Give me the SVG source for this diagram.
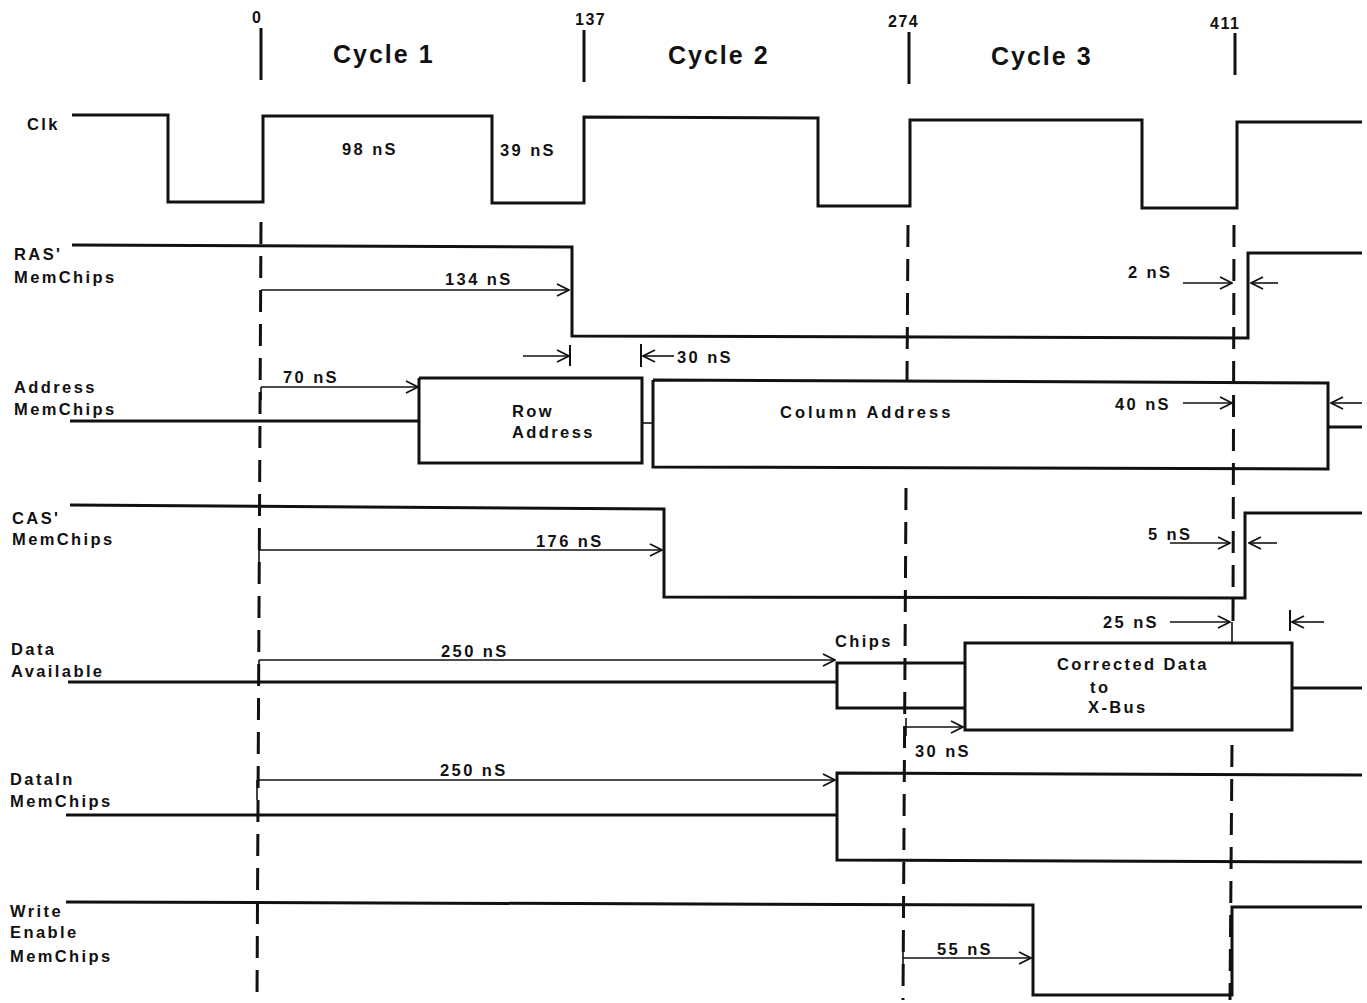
<svg xmlns="http://www.w3.org/2000/svg" width="1367" height="1003" viewBox="0 0 1367 1003">
<style>
.sig{fill:none;stroke:#111;stroke-width:3;stroke-linejoin:miter}
.dash{fill:none;stroke:#111;stroke-width:3;stroke-dasharray:22 12}
.tick{fill:none;stroke:#111;stroke-width:3}
.dim{fill:none;stroke:#111;stroke-width:1.6}
.dimA{fill:none;stroke:#111;stroke-width:1.6;marker-end:url(#arr)}
text{font-family:"Liberation Sans",Arial,sans-serif;font-weight:bold;fill:#111}
.lbl{font-size:16.5px;letter-spacing:2.4px}
.cyc{font-size:25px;letter-spacing:2px}
.num{font-size:16px;letter-spacing:1.5px}
</style>
<defs>
<marker id="arr" viewBox="0 0 14 14" refX="13" refY="7" markerWidth="14" markerHeight="14" markerUnits="userSpaceOnUse" orient="auto">
<path d="M1,1 L13,7 L1,13" fill="none" stroke="#111" stroke-width="1.8"/>
</marker>
</defs>
<rect width="1367" height="1003" fill="#fff"/>

<g id="timescale">
<line class="tick" x1="261" y1="28" x2="261" y2="80"/>
<line class="tick" x1="584" y1="30" x2="584" y2="82"/>
<line class="tick" x1="909" y1="32" x2="909" y2="84"/>
<line class="tick" x1="1235" y1="33" x2="1235" y2="75"/>
<text class="num" x="252" y="23">0</text>
<text class="num" x="575" y="25">137</text>
<text class="num" x="888" y="27">274</text>
<text class="num" x="1210" y="29">411</text>
<text class="cyc" x="333" y="63">Cycle 1</text>
<text class="cyc" x="668" y="64">Cycle 2</text>
<text class="cyc" x="991" y="65">Cycle 3</text>
</g>

<g id="gridlines">
<line class="dash" x1="261" y1="222" x2="257" y2="1000"/>
<line class="dash" x1="908" y1="225" x2="907" y2="380"/>
<line class="dash" x1="906" y1="488" x2="903" y2="1000"/>
<line class="dash" x1="1234" y1="225" x2="1233" y2="622"/>
<line class="dash" x1="1232" y1="745" x2="1230" y2="1000"/>
</g>

<g id="clk">
<text class="lbl" x="27" y="130">Clk</text>
<polyline class="sig" points="72,115 168,115 168,202 263,202 263,116 492,116 492,203 584,203 584,117 818,118 818,206 910,206 910,120 1142,120 1142,208 1237,208 1237,122 1362,122"/>
<text class="lbl" x="342" y="155">98 nS</text>
<text class="lbl" x="500" y="156">39 nS</text>
</g>

<g id="ras">
<text class="lbl" x="14" y="260">RAS'</text>
<text class="lbl" x="14" y="283">MemChips</text>
<polyline class="sig" points="72,245 572,247 572,336 1248,338 1248,253 1362,253"/>
</g>

<g id="address">
<text class="lbl" x="14" y="393">Address</text>
<text class="lbl" x="14" y="415">MemChips</text>
<polyline class="sig" points="70,421 419,421"/>
<polyline class="sig" points="419,378 642,378 642,463 419,463 419,378"/>
<line class="dim" x1="642" y1="423" x2="653" y2="423"/>
<polyline class="sig" points="653,380 1328,383 1328,469 653,467 653,380"/>
<line class="sig" x1="1328" y1="427" x2="1362" y2="427"/>
<text class="lbl" x="512" y="417">Row</text>
<text class="lbl" x="512" y="438">Address</text>
<text class="lbl" x="780" y="418" style="letter-spacing:3px">Column Address</text>
</g>

<g id="cas">
<text class="lbl" x="12" y="524">CAS'</text>
<text class="lbl" x="12" y="545">MemChips</text>
<polyline class="sig" points="70,505 664,509 664,597 1245,598 1245,513 1362,513"/>
</g>

<g id="data-available">
<text class="lbl" x="11" y="655">Data</text>
<text class="lbl" x="11" y="677">Available</text>
<polyline class="sig" points="68,682 837,682"/>
<polyline class="sig" points="965,663 837,663 837,708 965,708"/>
<rect class="sig" x="965" y="643" width="327" height="87"/>
<line class="sig" x1="1292" y1="688" x2="1362" y2="688"/>
<text class="lbl" x="835" y="647">Chips</text>
<text class="lbl" x="1057" y="670">Corrected Data</text>
<text class="lbl" x="1090" y="693">to</text>
<text class="lbl" x="1088" y="713">X-Bus</text>
</g>

<g id="datain">
<text class="lbl" x="10" y="785">DataIn</text>
<text class="lbl" x="10" y="807">MemChips</text>
<polyline class="sig" points="66,815 837,815"/>
<polyline class="sig" points="1362,775 837,773 837,860 1362,862"/>
</g>

<g id="write-enable">
<text class="lbl" x="10" y="917">Write</text>
<text class="lbl" x="10" y="938">Enable</text>
<text class="lbl" x="10" y="962">MemChips</text>
<polyline class="sig" points="66,902 1033,905 1033,995 1232,995 1232,907 1362,907"/>
</g>

<g id="connectors">
<line class="dim" x1="261" y1="290" x2="261" y2="305"/>
<line class="dimA" x1="261" y1="290" x2="569" y2="290"/>
<text class="lbl" x="445" y="285">134 nS</text>
<line class="dimA" x1="523" y1="356" x2="569" y2="356"/>
<line class="tick" x1="570" y1="345" x2="570" y2="366" style="stroke-width:2"/>
<line class="tick" x1="641" y1="344" x2="641" y2="367" style="stroke-width:2"/>
<line class="dimA" x1="674" y1="356" x2="643" y2="356"/>
<text class="lbl" x="677" y="363">30 nS</text>
<text class="lbl" x="1128" y="278">2 nS</text>
<line class="dimA" x1="1183" y1="283" x2="1232" y2="283"/>
<line class="dimA" x1="1278" y1="283" x2="1251" y2="283"/>
<line class="dim" x1="261" y1="387" x2="261" y2="400"/>
<line class="dimA" x1="261" y1="387" x2="418" y2="387"/>
<text class="lbl" x="283" y="383">70 nS</text>
<text class="lbl" x="1115" y="410">40 nS</text>
<line class="dimA" x1="1183" y1="403" x2="1232" y2="403"/>
<line class="dimA" x1="1362" y1="403" x2="1331" y2="403"/>
<line class="dim" x1="259" y1="550" x2="259" y2="566"/>
<line class="dimA" x1="259" y1="550" x2="662" y2="550"/>
<text class="lbl" x="536" y="547">176 nS</text>
<text class="lbl" x="1148" y="540">5 nS</text>
<line class="dimA" x1="1170" y1="543" x2="1230" y2="543"/>
<line class="dimA" x1="1277" y1="543" x2="1249" y2="543"/>
<line class="dim" x1="259" y1="660" x2="259" y2="672"/>
<line class="dimA" x1="259" y1="660" x2="835" y2="660"/>
<text class="lbl" x="441" y="657">250 nS</text>
<text class="lbl" x="1103" y="628">25 nS</text>
<line class="dimA" x1="1170" y1="622" x2="1230" y2="622"/>
<line class="dim" x1="1232" y1="622" x2="1232" y2="643"/>
<line class="tick" x1="1290" y1="610" x2="1290" y2="631" style="stroke-width:2"/>
<line class="dimA" x1="1324" y1="622" x2="1292" y2="622"/>
<line class="dim" x1="906" y1="718" x2="906" y2="736"/>
<line class="dimA" x1="906" y1="727" x2="963" y2="727"/>
<text class="lbl" x="915" y="757">30 nS</text>
<line class="dim" x1="257" y1="780" x2="257" y2="800"/>
<line class="dimA" x1="257" y1="780" x2="835" y2="780"/>
<text class="lbl" x="440" y="776">250 nS</text>
<line class="dim" x1="903" y1="948" x2="903" y2="968"/>
<line class="dimA" x1="903" y1="958" x2="1031" y2="958"/>
<text class="lbl" x="937" y="955">55 nS</text>
</g>
</svg>
